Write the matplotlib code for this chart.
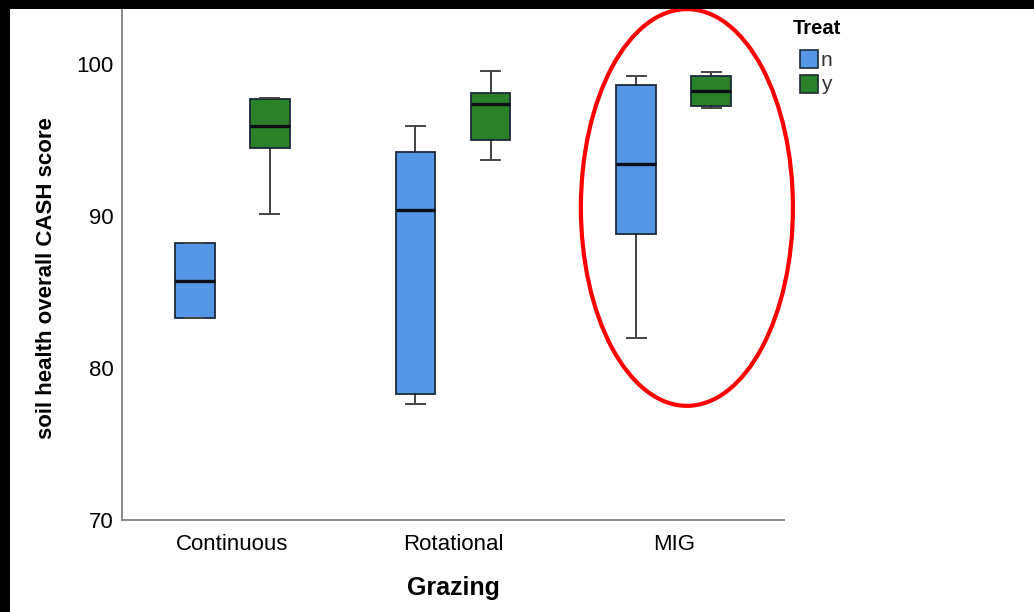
import matplotlib
matplotlib.use("Agg")
import matplotlib.pyplot as plt
from matplotlib.patches import Rectangle, Ellipse

plt.rcParams["font.family"] = ["Liberation Sans", "DejaVu Sans"]

# Grazing systems and treatment groups
grazing = ["Continuous", "Rotational", "MIG"]
treat = ["n", "y"]

# Five-number summaries per grazing system (n, y)
whislo = {"n": [83.3, 77.6, 82.0], "y": [90.1, 93.7, 97.1]}
q1 = {"n": [83.3, 78.3, 88.8], "y": [94.45, 95.0, 97.25]}
med = {"n": [85.75, 90.4, 93.45], "y": [95.9, 97.4, 98.2]}
q3 = {"n": [88.2, 94.2, 98.65], "y": [97.7, 98.1, 99.2]}
whishi = {"n": [88.2, 95.95, 99.2], "y": [97.75, 99.55, 99.45]}

yticks = [70, 80, 90, 100]
colors = {"n": "#5597e6", "y": "#2a8127"}

W, H = 1034, 612
fig = plt.figure(figsize=(W / 100, H / 100), dpi=100)
ax = fig.add_axes([122 / W, (H - 520) / H, (784 - 122) / W, 520 / H])

offsets = {"n": -0.17, "y": 0.17}
for t in treat:
    stats = []
    for i in range(len(grazing)):
        stats.append(dict(whislo=whislo[t][i], q1=q1[t][i], med=med[t][i],
                          q3=q3[t][i], whishi=whishi[t][i], fliers=[]))
    pos = [i + offsets[t] for i in range(len(grazing))]
    ax.bxp(stats, positions=pos, widths=0.18, capwidths=0.086,
           patch_artist=True, showfliers=False, manage_ticks=False,
           boxprops=dict(facecolor=colors[t], edgecolor="#1c2a3a", linewidth=1.3),
           medianprops=dict(color="#0a0f18", linewidth=2.4),
           whiskerprops=dict(color="#222222", linewidth=1.2),
           capprops=dict(color="#444444", linewidth=1.4))

ax.set_xlim(-0.5, 2.5)
ax.set_ylim(70, 70 + 520 / 15.2)
ax.set_xticks(range(len(grazing)))
ax.set_xticklabels(grazing, fontsize=16)
ax.set_yticks(yticks)
ax.set_yticklabels([str(v) for v in yticks], fontsize=16)
ax.tick_params(length=0)
ax.tick_params(axis="y", pad=6)
ax.tick_params(axis="x", pad=10)
for s in ["top", "right"]:
    ax.spines[s].set_visible(False)
for s in ["left", "bottom"]:
    ax.spines[s].set_color("#8a8a8a")
    ax.spines[s].set_linewidth(1.4)

# Highlight around the MIG group
ell = Ellipse((2.06, 90.56), 0.961, 26.1, fill=False, edgecolor="#ff0000",
              linewidth=3.0, clip_on=False, zorder=5)
ax.add_patch(ell)

fig.text(453 / W, 1 - 588 / H, "Grazing", ha="center", va="center",
         fontsize=18, fontweight="bold")
fig.text(47 / W, 1 - 278 / H, "soil health overall CASH score", ha="center",
         va="center", rotation=90, fontsize=16, fontweight="bold")

# Legend
fig.text(793 / W, 1 - 29 / H, "Treat", ha="left", va="center",
         fontsize=14.5, fontweight="bold")
for k, t in enumerate(treat):
    y0 = 50 + k * 24.5
    fig.patches.append(Rectangle((800 / W, 1 - (y0 + 18) / H), 18 / W, 18 / H,
                                 transform=fig.transFigure, facecolor=colors[t],
                                 edgecolor="#1c2a3a", linewidth=1.2))
    fig.text(821 / W, 1 - (y0 + 10) / H, t, ha="left", va="center",
             fontsize=15, color="#333333")

# Frame bands
fig.patches.append(Rectangle((0, 1 - 9 / H), 1, 9 / H, transform=fig.transFigure,
                             facecolor="black", edgecolor="none", zorder=10))
fig.patches.append(Rectangle((0, 0), 10 / W, 1, transform=fig.transFigure,
                             facecolor="black", edgecolor="none", zorder=10))

fig.savefig("out.png", dpi=100)
